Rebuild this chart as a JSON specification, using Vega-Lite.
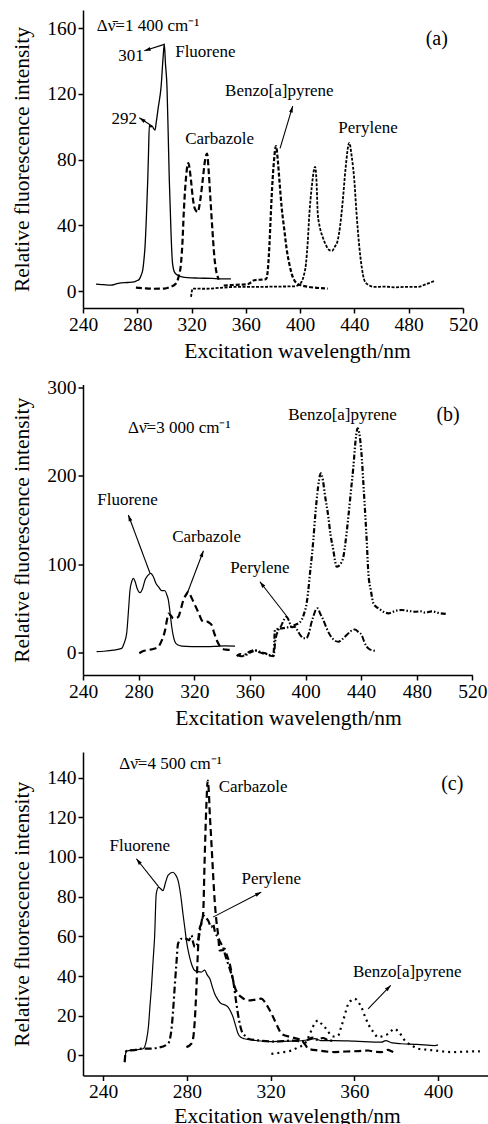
{
"$schema":"https://vega.github.io/schema/vega-lite/v6.json",
"background":"white",
"padding":{"left":11,"top":10,"right":0,"bottom":0},
"autosize":{"type":"pad"},
"bounds":"flush",
"spacing":76.5,
"resolve":{"scale":{"x":"independent","y":"independent"}},
"config":{
 "font":"Liberation Serif",
 "view":{"stroke":null},
 "axis":{"grid":false,"domainColor":"black","domainWidth":1.5,"tickColor":"black","tickWidth":1.5,"tickSize":5,"labelFont":"Liberation Serif","labelFontSize":19.5,"labelColor":"black","labelPadding":2,"labelFlush":false,"labelOverlap":false,"titleFont":"Liberation Serif","titleFontSize":21.5,"titleFontWeight":"normal","titleColor":"black"},
 "axisY":{"titlePadding":13},
 "text":{"font":"Liberation Serif","fontSize":17,"color":"black","align":"center","baseline":"middle"},
 "line":{"color":"black","interpolate":"monotone"}
},
"datasets":{
"ca":[
{"c":"F","x":249.6,"y":4.3},{"c":"F","x":255,"y":4.0},{"c":"F","x":260.6,"y":3.7},{"c":"F","x":265,"y":4.6},{"c":"F","x":268,"y":5.1},{"c":"F","x":273,"y":5.3},{"c":"F","x":277.8,"y":5.7},{"c":"F","x":280,"y":6.5},{"c":"F","x":281.5,"y":7.3},{"c":"F","x":283,"y":10},{"c":"F","x":284,"y":12.8},{"c":"F","x":285,"y":20},{"c":"F","x":285.7,"y":27},{"c":"F","x":286.7,"y":45},{"c":"F","x":287.7,"y":67.6},{"c":"F","x":288.3,"y":85},{"c":"F","x":288.9,"y":101},{"c":"F","x":290,"y":100},{"c":"F","x":291,"y":100.5},{"c":"F","x":292,"y":99},{"c":"F","x":293,"y":98},{"c":"F","x":294,"y":103},{"c":"F","x":295.5,"y":112},{"c":"F","x":297.5,"y":124},{"c":"F","x":299,"y":142},{"c":"F","x":299.9,"y":150.4},{"c":"F","x":300.8,"y":138},{"c":"F","x":301.9,"y":124},{"c":"F","x":302.8,"y":95},{"c":"F","x":303.6,"y":67.6},{"c":"F","x":304.3,"y":50},{"c":"F","x":304.8,"y":37},{"c":"F","x":306,"y":16.8},{"c":"F","x":307.5,"y":11.5},{"c":"F","x":309.8,"y":9.7},{"c":"F","x":313,"y":8.8},{"c":"F","x":317,"y":8.3},{"c":"F","x":325,"y":8},{"c":"F","x":335,"y":7.8},{"c":"F","x":342,"y":7.5},{"c":"F","x":349,"y":7.5},
{"c":"C","x":279,"y":2.2},{"c":"C","x":285,"y":1.8},{"c":"C","x":292,"y":1.5},{"c":"C","x":299.9,"y":1.6},{"c":"C","x":304,"y":2.5},{"c":"C","x":308.5,"y":4.7},{"c":"C","x":310.5,"y":9},{"c":"C","x":312.2,"y":16.8},{"c":"C","x":313.3,"y":30},{"c":"C","x":314.2,"y":47},{"c":"C","x":315.5,"y":65},{"c":"C","x":317.6,"y":78},{"c":"C","x":319.5,"y":68},{"c":"C","x":320.8,"y":57.4},{"c":"C","x":322.5,"y":50},{"c":"C","x":324.5,"y":48.3},{"c":"C","x":326.5,"y":56},{"c":"C","x":328.2,"y":67.6},{"c":"C","x":330,"y":80},{"c":"C","x":331.4,"y":83.8},{"c":"C","x":332.7,"y":72},{"c":"C","x":333.8,"y":57.4},{"c":"C","x":335.3,"y":38},{"c":"C","x":336.8,"y":20.9},{"c":"C","x":338,"y":13},{"c":"C","x":339.3,"y":8.7},{"c":"C","x":340,"y":7},
{"c":"B","x":343.7,"y":3.5},{"c":"B","x":350,"y":3.8},{"c":"B","x":356,"y":4},{"c":"B","x":361.4,"y":4.3},{"c":"B","x":364,"y":5.5},{"c":"B","x":366.2,"y":6.7},{"c":"B","x":370,"y":7},{"c":"B","x":374.9,"y":7.3},{"c":"B","x":376.3,"y":14},{"c":"B","x":377.3,"y":27},{"c":"B","x":378.3,"y":45},{"c":"B","x":379,"y":57.4},{"c":"B","x":380.5,"y":77},{"c":"B","x":382.2,"y":88.3},{"c":"B","x":383.5,"y":80},{"c":"B","x":384.7,"y":67.6},{"c":"B","x":386.5,"y":50},{"c":"B","x":388.4,"y":37},{"c":"B","x":390,"y":26},{"c":"B","x":392,"y":16.8},{"c":"B","x":394,"y":10},{"c":"B","x":395.7,"y":6.7},{"c":"B","x":398,"y":4.5},{"c":"B","x":400.6,"y":3.6},{"c":"B","x":405,"y":2.8},{"c":"B","x":410.5,"y":2.2},{"c":"B","x":415,"y":1.9},{"c":"B","x":420.3,"y":1.6},
{"c":"P","x":319.6,"y":-3.5},{"c":"P","x":320.8,"y":1.6},{"c":"P","x":330,"y":1.5},{"c":"P","x":340,"y":2},{"c":"P","x":351.5,"y":2.6},{"c":"P","x":365,"y":2.6},{"c":"P","x":380,"y":2.8},{"c":"P","x":395.7,"y":3},{"c":"P","x":400,"y":4.5},{"c":"P","x":402.5,"y":9},{"c":"P","x":404.3,"y":16.8},{"c":"P","x":405.6,"y":30},{"c":"P","x":406.8,"y":47},{"c":"P","x":408.5,"y":63},{"c":"P","x":411,"y":75.7},{"c":"P","x":412,"y":68},{"c":"P","x":413,"y":47},{"c":"P","x":414.5,"y":39},{"c":"P","x":416.6,"y":33},{"c":"P","x":419,"y":28},{"c":"P","x":421.5,"y":25},{"c":"P","x":423.5,"y":24.5},{"c":"P","x":425.5,"y":27},{"c":"P","x":427.7,"y":31},{"c":"P","x":429.5,"y":40},{"c":"P","x":431.4,"y":55},{"c":"P","x":433.5,"y":75},{"c":"P","x":436.2,"y":90.3},{"c":"P","x":438,"y":82},{"c":"P","x":439.9,"y":67.6},{"c":"P","x":441.5,"y":48},{"c":"P","x":443.6,"y":27},{"c":"P","x":445.5,"y":14},{"c":"P","x":447.3,"y":6.7},{"c":"P","x":450,"y":4},{"c":"P","x":454.7,"y":2.6},{"c":"P","x":462,"y":2.8},{"c":"P","x":470,"y":2.4},{"c":"P","x":478,"y":2.7},{"c":"P","x":486.6,"y":2.6},{"c":"P","x":492,"y":4},{"c":"P","x":498.9,"y":6.3}
],
"cb":[
{"c":"F","x":249.8,"y":0.7},{"c":"F","x":255,"y":1.2},{"c":"F","x":262,"y":2.5},{"c":"F","x":267.8,"y":4.5},{"c":"F","x":269.5,"y":10},{"c":"F","x":271.4,"y":21.5},{"c":"F","x":272.6,"y":45},{"c":"F","x":273.8,"y":70.6},{"c":"F","x":275,"y":80},{"c":"F","x":276.2,"y":83.9},{"c":"F","x":277.5,"y":80},{"c":"F","x":279,"y":72},{"c":"F","x":281,"y":67.6},{"c":"F","x":282.8,"y":72},{"c":"F","x":284.6,"y":82},{"c":"F","x":286.5,"y":87},{"c":"F","x":288.7,"y":89.6},{"c":"F","x":290.5,"y":86},{"c":"F","x":292.5,"y":78},{"c":"F","x":294.2,"y":74.4},{"c":"F","x":296.5,"y":70},{"c":"F","x":299,"y":69.8},{"c":"F","x":300.3,"y":65},{"c":"F","x":301.4,"y":59.3},{"c":"F","x":302.6,"y":45},{"c":"F","x":303.8,"y":29},{"c":"F","x":305,"y":18},{"c":"F","x":306.1,"y":12},{"c":"F","x":308,"y":8.5},{"c":"F","x":311,"y":7.1},{"c":"F","x":318,"y":6.5},{"c":"F","x":325.3,"y":6.4},{"c":"F","x":335,"y":6.8},{"c":"F","x":342,"y":7.3},{"c":"F","x":349.3,"y":7.1},
{"c":"C","x":280.5,"y":-1},{"c":"C","x":283,"y":1.2},{"c":"C","x":287,"y":2.6},{"c":"C","x":291,"y":4},{"c":"C","x":294.2,"y":6.4},{"c":"C","x":296.5,"y":13},{"c":"C","x":299,"y":25},{"c":"C","x":300.3,"y":36},{"c":"C","x":301.4,"y":44},{"c":"C","x":303,"y":42},{"c":"C","x":305,"y":38.5},{"c":"C","x":307,"y":39},{"c":"C","x":308.6,"y":40.4},{"c":"C","x":310.5,"y":50},{"c":"C","x":312.2,"y":59.3},{"c":"C","x":314,"y":65},{"c":"C","x":315.8,"y":68.7},{"c":"C","x":318,"y":62},{"c":"C","x":320.5,"y":53.6},{"c":"C","x":323,"y":45},{"c":"C","x":325.3,"y":36.6},{"c":"C","x":327,"y":34.5},{"c":"C","x":328.9,"y":34.7},{"c":"C","x":330.8,"y":33.5},{"c":"C","x":332.5,"y":31},{"c":"C","x":334.3,"y":22},{"c":"C","x":336.1,"y":14},{"c":"C","x":338,"y":8},{"c":"C","x":339.7,"y":4.5},{"c":"C","x":343,"y":3},{"c":"C","x":346.9,"y":2.6},
{"c":"B","x":350.5,"y":-4.2},{"c":"B","x":353,"y":-2},{"c":"B","x":356,"y":-4},{"c":"B","x":359,"y":-1},{"c":"B","x":362,"y":1},{"c":"B","x":365,"y":2},{"c":"B","x":368,"y":0},{"c":"B","x":371,"y":-1},{"c":"B","x":374,"y":-3},{"c":"B","x":376.9,"y":-3},{"c":"B","x":377.5,"y":10},{"c":"B","x":378,"y":25.3},{"c":"B","x":380,"y":26.5},{"c":"B","x":382.8,"y":27.2},{"c":"B","x":386,"y":28},{"c":"B","x":389,"y":29},{"c":"B","x":392.4,"y":31},{"c":"B","x":395,"y":33},{"c":"B","x":397.2,"y":36.6},{"c":"B","x":399,"y":44},{"c":"B","x":400.8,"y":55.5},{"c":"B","x":402,"y":70},{"c":"B","x":403.2,"y":89.6},{"c":"B","x":404.5,"y":108},{"c":"B","x":405.6,"y":127},{"c":"B","x":407,"y":155},{"c":"B","x":408.5,"y":180},{"c":"B","x":409.8,"y":196},{"c":"B","x":411,"y":203},{"c":"B","x":412.5,"y":195},{"c":"B","x":414,"y":178},{"c":"B","x":416.4,"y":153.7},{"c":"B","x":418,"y":133},{"c":"B","x":420,"y":116},{"c":"B","x":421.2,"y":104},{"c":"B","x":422.4,"y":97},{"c":"B","x":424,"y":98},{"c":"B","x":425.5,"y":101},{"c":"B","x":427.2,"y":108},{"c":"B","x":429,"y":128},{"c":"B","x":430.8,"y":153.7},{"c":"B","x":432.6,"y":182},{"c":"B","x":434.4,"y":210},{"c":"B","x":436,"y":240},{"c":"B","x":437.5,"y":254},{"c":"B","x":439,"y":245},{"c":"B","x":440.5,"y":220},{"c":"B","x":441.6,"y":191.6},{"c":"B","x":443,"y":155},{"c":"B","x":444,"y":127},{"c":"B","x":445.2,"y":89.6},{"c":"B","x":447,"y":70},{"c":"B","x":448.8,"y":55.5},{"c":"B","x":450.5,"y":52},{"c":"B","x":452.4,"y":49.9},{"c":"B","x":456,"y":46},{"c":"B","x":459.6,"y":44.2},{"c":"B","x":463,"y":46},{"c":"B","x":466,"y":47.5},{"c":"B","x":469.1,"y":48},{"c":"B","x":474,"y":47},{"c":"B","x":478.7,"y":46},{"c":"B","x":483,"y":46.5},{"c":"B","x":486,"y":45},{"c":"B","x":490.7,"y":46.5},{"c":"B","x":496,"y":44.5},{"c":"B","x":501.5,"y":43.4},
{"c":"P","x":351,"y":-3},{"c":"P","x":354,"y":-4.5},{"c":"P","x":357,"y":-2},{"c":"P","x":360,"y":1},{"c":"P","x":363,"y":2.5},{"c":"P","x":366,"y":0.5},{"c":"P","x":369,"y":-1},{"c":"P","x":372,"y":-2},{"c":"P","x":375,"y":-4},{"c":"P","x":377,"y":-4.5},{"c":"P","x":378.5,"y":15},{"c":"P","x":380.5,"y":25.3},{"c":"P","x":382.5,"y":30},{"c":"P","x":384.5,"y":37},{"c":"P","x":386.4,"y":40.4},{"c":"P","x":388,"y":36},{"c":"P","x":390,"y":28.3},{"c":"P","x":392,"y":29},{"c":"P","x":394.5,"y":24},{"c":"P","x":396.5,"y":19},{"c":"P","x":398.4,"y":15.9},{"c":"P","x":400.5,"y":16},{"c":"P","x":402.5,"y":22},{"c":"P","x":404,"y":32},{"c":"P","x":405.6,"y":40.4},{"c":"P","x":407,"y":47},{"c":"P","x":408.7,"y":49.9},{"c":"P","x":410.5,"y":44},{"c":"P","x":412.8,"y":36.6},{"c":"P","x":415,"y":28},{"c":"P","x":417.6,"y":19.6},{"c":"P","x":420.5,"y":14},{"c":"P","x":423.6,"y":12},{"c":"P","x":426.5,"y":15},{"c":"P","x":429.6,"y":19.6},{"c":"P","x":432.5,"y":24},{"c":"P","x":435.5,"y":26},{"c":"P","x":438,"y":23},{"c":"P","x":440.4,"y":19.6},{"c":"P","x":442.2,"y":12},{"c":"P","x":444,"y":6.4},{"c":"P","x":446,"y":3.5},{"c":"P","x":447.5,"y":2.6},{"c":"P","x":451.1,"y":1.5}
],
"cc":[
{"c":"F","x":250.3,"y":-3.4},{"c":"F","x":250.8,"y":1},{"c":"F","x":251.1,"y":2.2},{"c":"F","x":255,"y":2.8},{"c":"F","x":259.1,"y":3.4},{"c":"F","x":260.7,"y":7.6},{"c":"F","x":261.7,"y":15},{"c":"F","x":262.4,"y":25},{"c":"F","x":263.1,"y":34.4},{"c":"F","x":263.9,"y":48},{"c":"F","x":264.6,"y":59.6},{"c":"F","x":265.4,"y":81.5},{"c":"F","x":266.5,"y":84.8},{"c":"F","x":267.5,"y":84},{"c":"F","x":268.6,"y":83.1},{"c":"F","x":269.8,"y":87},{"c":"F","x":271,"y":90.7},{"c":"F","x":273.4,"y":92.3},{"c":"F","x":274.6,"y":91},{"c":"F","x":275.8,"y":88.2},{"c":"F","x":276.6,"y":84},{"c":"F","x":277.4,"y":78.1},{"c":"F","x":278.2,"y":71},{"c":"F","x":279,"y":64.6},{"c":"F","x":279.8,"y":57.9},{"c":"F","x":281,"y":51},{"c":"F","x":282.2,"y":46.2},{"c":"F","x":283.8,"y":42.8},{"c":"F","x":285.3,"y":42.2},{"c":"F","x":286.9,"y":42},{"c":"F","x":288.5,"y":43},{"c":"F","x":289.8,"y":40.5},{"c":"F","x":291,"y":38.6},{"c":"F","x":292.2,"y":34.5},{"c":"F","x":293.3,"y":31.1},{"c":"F","x":294.9,"y":28},{"c":"F","x":296.5,"y":26},{"c":"F","x":298.1,"y":25.5},{"c":"F","x":299.7,"y":24.3},{"c":"F","x":301,"y":22},{"c":"F","x":302.1,"y":19.3},{"c":"F","x":303.3,"y":15},{"c":"F","x":304.5,"y":10.9},{"c":"F","x":306,"y":9},{"c":"F","x":307.6,"y":8.4},{"c":"F","x":310,"y":7.9},{"c":"F","x":312.4,"y":7.6},{"c":"F","x":320,"y":7},{"c":"F","x":330,"y":7.2},{"c":"F","x":338,"y":7.8},{"c":"F","x":341,"y":8.5},{"c":"F","x":344,"y":7.5},{"c":"F","x":350.7,"y":7.5},{"c":"F","x":360,"y":7.2},{"c":"F","x":373,"y":6.7},{"c":"F","x":375,"y":7.5},{"c":"F","x":378,"y":6.3},{"c":"F","x":382.6,"y":5.9},{"c":"F","x":390,"y":5.6},{"c":"F","x":398.5,"y":5},{"c":"F","x":400,"y":5.3},
{"c":"C","x":279.8,"y":4.2},{"c":"C","x":282.2,"y":6},{"c":"C","x":283.2,"y":10},{"c":"C","x":283.8,"y":17.6},{"c":"C","x":284.6,"y":34.4},{"c":"C","x":285.2,"y":50},{"c":"C","x":285.8,"y":62},{"c":"C","x":287,"y":67},{"c":"C","x":287.8,"y":71.4},{"c":"C","x":288.5,"y":98.2},{"c":"C","x":289.3,"y":125},{"c":"C","x":290,"y":138.5},{"c":"C","x":290.6,"y":131},{"c":"C","x":290.9,"y":123.4},{"c":"C","x":291.6,"y":110},{"c":"C","x":292.2,"y":98.2},{"c":"C","x":293.3,"y":78.1},{"c":"C","x":294.3,"y":66},{"c":"C","x":294.9,"y":61.3},{"c":"C","x":295.7,"y":52.9},{"c":"C","x":297,"y":53},{"c":"C","x":298.1,"y":53.7},{"c":"C","x":299.3,"y":50},{"c":"C","x":300.5,"y":46.2},{"c":"C","x":301.7,"y":40},{"c":"C","x":302.9,"y":34.4},{"c":"C","x":304.5,"y":31},{"c":"C","x":306.1,"y":29.4},{"c":"C","x":309.3,"y":27.7},{"c":"C","x":312,"y":28},{"c":"C","x":315.6,"y":28.6},{"c":"C","x":317.2,"y":27},{"c":"C","x":318.8,"y":24.3},{"c":"C","x":320.5,"y":21},{"c":"C","x":322,"y":17.6},{"c":"C","x":323.6,"y":14},{"c":"C","x":325.2,"y":10.9},{"c":"C","x":330,"y":9.2},{"c":"C","x":334.8,"y":7.6},{"c":"C","x":336.5,"y":5.5},{"c":"C","x":338,"y":3.4},{"c":"C","x":343,"y":2.5},{"c":"C","x":350.7,"y":1.7},{"c":"C","x":356,"y":2},{"c":"C","x":362,"y":2.2},{"c":"C","x":366.6,"y":2.5},{"c":"C","x":370,"y":1.8},{"c":"C","x":373,"y":1.7},{"c":"C","x":376,"y":2.8},{"c":"C","x":378,"y":2},{"c":"C","x":380.2,"y":0.8},
{"c":"P","x":250.3,"y":-3.4},{"c":"P","x":250.8,"y":1.5},{"c":"P","x":251.5,"y":2.5},{"c":"P","x":255,"y":2.7},{"c":"P","x":258.3,"y":3.4},{"c":"P","x":261.5,"y":3.4},{"c":"P","x":266.3,"y":3.9},{"c":"P","x":271,"y":5.9},{"c":"P","x":272.6,"y":12.6},{"c":"P","x":273.4,"y":22},{"c":"P","x":274.2,"y":34.4},{"c":"P","x":275,"y":46},{"c":"P","x":275.8,"y":56.3},{"c":"P","x":277.4,"y":58.8},{"c":"P","x":279.8,"y":58.8},{"c":"P","x":281,"y":58},{"c":"P","x":282.2,"y":60.5},{"c":"P","x":283,"y":57},{"c":"P","x":283.8,"y":54.6},{"c":"P","x":285,"y":56},{"c":"P","x":286.5,"y":64},{"c":"P","x":287.8,"y":70.5},{"c":"P","x":289,"y":69.5},{"c":"P","x":290.2,"y":68},{"c":"P","x":291.7,"y":64.6},{"c":"P","x":292.5,"y":66.3},{"c":"P","x":293.5,"y":62},{"c":"P","x":294.9,"y":59.6},{"c":"P","x":296,"y":57},{"c":"P","x":297.3,"y":54.6},{"c":"P","x":298.5,"y":50},{"c":"P","x":299.7,"y":46.2},{"c":"P","x":301,"y":42},{"c":"P","x":302.1,"y":37.8},{"c":"P","x":303.7,"y":26},{"c":"P","x":304.9,"y":18},{"c":"P","x":306.1,"y":12.6},{"c":"P","x":307.7,"y":10},{"c":"P","x":309.3,"y":8.4},{"c":"P","x":315,"y":7.5},{"c":"P","x":322,"y":7},{"c":"P","x":330,"y":7.5},{"c":"P","x":335,"y":7.2},{"c":"P","x":338,"y":8},{"c":"P","x":340,"y":9},{"c":"P","x":342,"y":8},{"c":"P","x":345,"y":8.8},{"c":"P","x":348,"y":7.5},{"c":"P","x":350.7,"y":7.5},
{"c":"B","x":320.4,"y":0.8},{"c":"B","x":325,"y":1.5},{"c":"B","x":330,"y":2.5},{"c":"B","x":333,"y":4},{"c":"B","x":336.3,"y":5.9},{"c":"B","x":338,"y":9},{"c":"B","x":339.5,"y":12.6},{"c":"B","x":341,"y":16},{"c":"B","x":342.7,"y":17.6},{"c":"B","x":344.3,"y":16},{"c":"B","x":345.9,"y":14.3},{"c":"B","x":347.5,"y":12},{"c":"B","x":349.1,"y":10},{"c":"B","x":350.7,"y":9.5},{"c":"B","x":352.3,"y":10},{"c":"B","x":353.5,"y":13.5},{"c":"B","x":354.7,"y":17.6},{"c":"B","x":355.9,"y":22},{"c":"B","x":357.1,"y":26},{"c":"B","x":358.6,"y":27.8},{"c":"B","x":360.2,"y":28.6},{"c":"B","x":361.8,"y":27},{"c":"B","x":363.4,"y":24.3},{"c":"B","x":365,"y":20},{"c":"B","x":366.6,"y":16},{"c":"B","x":369,"y":12},{"c":"B","x":371.4,"y":9.2},{"c":"B","x":373.8,"y":9.8},{"c":"B","x":376.2,"y":10.9},{"c":"B","x":377.8,"y":12.5},{"c":"B","x":379.3,"y":13.4},{"c":"B","x":381,"y":12},{"c":"B","x":382.6,"y":10},{"c":"B","x":383.8,"y":8},{"c":"B","x":385,"y":6.7},{"c":"B","x":387.5,"y":5},{"c":"B","x":390.5,"y":3.4},{"c":"B","x":394.5,"y":2.9},{"c":"B","x":398.5,"y":2.5},{"c":"B","x":402.5,"y":2},{"c":"B","x":406.5,"y":1.7},{"c":"B","x":410,"y":1.8},{"c":"B","x":415,"y":2},{"c":"B","x":420,"y":2.1}
],
"la":[{"x":287.9,"y":161.3,"t":"Δν̄=1 400 cm⁻¹"},{"x":275.4,"y":143.1,"t":"301"},{"x":330.2,"y":145.3,"t":"Fluorene"},{"x":270.4,"y":104.7,"t":"292"},{"x":340.7,"y":92.5,"t":"Carbazole"},{"x":384.7,"y":122,"t":"Benzo[a]pyrene"},{"x":450,"y":99.4,"t":"Perylene"}],
"lb":[{"x":309.2,"y":254.3,"t":"Δν̄=3 000 cm⁻¹"},{"x":426.6,"y":269,"t":"Benzo[a]pyrene"},{"x":272,"y":172.7,"t":"Fluorene"},{"x":328.9,"y":131,"t":"Carbazole"},{"x":367.2,"y":95.2,"t":"Perylene"}],
"lc":[{"x":272.2,"y":147,"t":"Δν̄=4 500 cm⁻¹"},{"x":311.7,"y":135.5,"t":"Carbazole"},{"x":257.5,"y":105.3,"t":"Fluorene"},{"x":320.3,"y":89,"t":"Perylene"},{"x":385.3,"y":42,"t":"Benzo[a]pyrene"}],
"aa":[{"id":"a1","x":299.9,"y":150.2,"x2":285.2,"y2":146.3},{"id":"a2","x":290.8,"y":100.5,"x2":281.5,"y2":105.5},{"id":"a3","x":385.2,"y":86.9,"x2":394.5,"y2":112.6}],
"ab":[{"id":"b1","x":288.2,"y":89.6,"x2":272.6,"y2":155.7},{"id":"b2","x":314.5,"y":65,"x2":326.6,"y2":115.2},{"id":"b3","x":386.4,"y":41.2,"x2":367.2,"y2":80}],
"ac":[{"id":"c1","x":266.5,"y":85.1,"x2":255.9,"y2":99.1},{"id":"c2","x":292.5,"y":69.7,"x2":315.6,"y2":82.3},{"id":"c3","x":366.6,"y":23.5,"x2":377.4,"y2":35.3}]
},
"vconcat":[
{
"width":380,"height":298,
"encoding":{
 "x":{"field":"x","type":"quantitative","scale":{"domain":[240,520],"nice":false,"zero":false},"axis":{"values":[240,280,320,360,400,440,480,520],"title":"Excitation wavelength/nm","titleX":214,"titleY":49,"titleBaseline":"alphabetic","titleAlign":"center"}},
 "y":{"field":"y","type":"quantitative","scale":{"domain":[-10.2,171.1],"nice":false,"zero":false},"axis":{"values":[0,40,80,120,160],"title":"Relative fluorescence intensity"}}
},
"layer":[
 {"data":{"name":"ca"},"transform":[{"filter":"datum.c=='F'"}],"mark":{"type":"line","strokeWidth":1.3}},
 {"data":{"name":"ca"},"transform":[{"filter":"datum.c=='C'"}],"mark":{"type":"line","strokeWidth":2.2,"strokeDash":[6,3]}},
 {"data":{"name":"ca"},"transform":[{"filter":"datum.c=='B'"}],"mark":{"type":"line","strokeWidth":2.2,"strokeDash":[4,2]}},
 {"data":{"name":"ca"},"transform":[{"filter":"datum.c=='P'"}],"mark":{"type":"line","strokeWidth":1.8,"strokeDash":[3,1.5]}},
 {"data":{"name":"aa"},"mark":{"type":"rule","color":"black","strokeWidth":1.1},"encoding":{"x2":{"field":"x2"},"y2":{"field":"y2"}}},
 {"data":{"name":"aa"},"transform":[{"filter":"datum.id=='a1'"}],"mark":{"type":"point","shape":"M0,0L0.6,2L-0.6,2Z","filled":true,"color":"black","opacity":1,"size":40,"angle":-107.7},"encoding":{"x":{"field":"x2","type":"quantitative"},"y":{"field":"y2","type":"quantitative"}}},
 {"data":{"name":"aa"},"transform":[{"filter":"datum.id=='a2'"}],"mark":{"type":"point","shape":"M0,0L0.6,2L-0.6,2Z","filled":true,"color":"black","opacity":1,"size":40,"angle":-56.8},"encoding":{"x":{"field":"x2","type":"quantitative"},"y":{"field":"y2","type":"quantitative"}}},
 {"data":{"name":"aa"},"transform":[{"filter":"datum.id=='a3'"}],"mark":{"type":"point","shape":"M0,0L0.6,2L-0.6,2Z","filled":true,"color":"black","opacity":1,"size":40,"angle":16.7},"encoding":{"x":{"field":"x2","type":"quantitative"},"y":{"field":"y2","type":"quantitative"}}},
 {"data":{"name":"la"},"mark":{"type":"text"},"encoding":{"text":{"field":"t"}}},
 {"data":{"values":[{"x":500.7,"y":153.2,"t":"(a)"}]},"mark":{"type":"text","fontSize":20},"encoding":{"text":{"field":"t"}}}
]
},
{
"width":389.4,"height":290.5,
"encoding":{
 "x":{"field":"x","type":"quantitative","scale":{"domain":[240,520],"nice":false,"zero":false},"axis":{"values":[240,280,320,360,400,440,480,520],"title":"Excitation wavelength/nm","titleX":205,"titleY":49,"titleBaseline":"alphabetic","titleAlign":"center"}},
 "y":{"field":"y","type":"quantitative","scale":{"domain":[-25.7,303.6],"nice":false,"zero":false},"axis":{"values":[0,100,200,300],"title":"Relative fluorescence intensity"}}
},
"layer":[
 {"data":{"name":"cb"},"transform":[{"filter":"datum.c=='F'"}],"mark":{"type":"line","strokeWidth":1.2}},
 {"data":{"name":"cb"},"transform":[{"filter":"datum.c=='C'"}],"mark":{"type":"line","strokeWidth":2.2,"strokeDash":[7,4]}},
 {"data":{"name":"cb"},"transform":[{"filter":"datum.c=='P'"}],"mark":{"type":"line","strokeWidth":2,"strokeDash":[6,2,1.5,2]}},
 {"data":{"name":"cb"},"transform":[{"filter":"datum.c=='B'"}],"mark":{"type":"line","strokeWidth":2.2,"strokeDash":[5,2,1.5,2,1.5,2]}},
 {"data":{"name":"ab"},"mark":{"type":"rule","color":"black","strokeWidth":1.1},"encoding":{"x2":{"field":"x2"},"y2":{"field":"y2"}}},
 {"data":{"name":"ab"},"transform":[{"filter":"datum.id=='b1'"}],"mark":{"type":"point","shape":"M0,0L0.6,2L-0.6,2Z","filled":true,"color":"black","opacity":1,"size":40,"angle":-20.3},"encoding":{"x":{"field":"x2","type":"quantitative"},"y":{"field":"y2","type":"quantitative"}}},
 {"data":{"name":"ab"},"transform":[{"filter":"datum.id=='b2'"}],"mark":{"type":"point","shape":"M0,0L0.6,2L-0.6,2Z","filled":true,"color":"black","opacity":1,"size":40,"angle":20.7},"encoding":{"x":{"field":"x2","type":"quantitative"},"y":{"field":"y2","type":"quantitative"}}},
 {"data":{"name":"ab"},"transform":[{"filter":"datum.id=='b3'"}],"mark":{"type":"point","shape":"M0,0L0.6,2L-0.6,2Z","filled":true,"color":"black","opacity":1,"size":40,"angle":-37.9},"encoding":{"x":{"field":"x2","type":"quantitative"},"y":{"field":"y2","type":"quantitative"}}},
 {"data":{"name":"lb"},"mark":{"type":"text"},"encoding":{"text":{"field":"t"}}},
 {"data":{"values":[{"x":502.5,"y":269,"t":"(b)"}]},"mark":{"type":"text","fontSize":20},"encoding":{"text":{"field":"t"}}}
]
},
{
"width":406.3,"height":323.5,
"encoding":{
 "x":{"field":"x","type":"quantitative","scale":{"domain":[230.4,424.5],"nice":false,"zero":false},"axis":{"values":[240,280,320,360,400],"title":"Excitation wavelength/nm","titleX":204,"titleY":46.7,"titleBaseline":"alphabetic","titleAlign":"center"}},
 "y":{"field":"y","type":"quantitative","scale":{"domain":[-10.1,152.9],"nice":false,"zero":false},"axis":{"values":[0,20,40,60,80,100,120,140],"title":"Relative fluorescence intensity"}}
},
"layer":[
 {"data":{"name":"cc"},"transform":[{"filter":"datum.c=='F'"}],"mark":{"type":"line","strokeWidth":1.2}},
 {"data":{"name":"cc"},"transform":[{"filter":"datum.c=='C'"}],"mark":{"type":"line","strokeWidth":2.2,"strokeDash":[7,4]}},
 {"data":{"name":"cc"},"transform":[{"filter":"datum.c=='P'"}],"mark":{"type":"line","strokeWidth":2.2,"strokeDash":[7,3,2,3]}},
 {"data":{"name":"cc"},"transform":[{"filter":"datum.c=='B'"}],"mark":{"type":"line","strokeWidth":2.2,"strokeDash":[2,4]}},
 {"data":{"name":"ac"},"mark":{"type":"rule","color":"black","strokeWidth":1.1},"encoding":{"x2":{"field":"x2"},"y2":{"field":"y2"}}},
 {"data":{"name":"ac"},"transform":[{"filter":"datum.id=='c1'"}],"mark":{"type":"point","shape":"M0,0L0.6,2L-0.6,2Z","filled":true,"color":"black","opacity":1,"size":40,"angle":-38.8},"encoding":{"x":{"field":"x2","type":"quantitative"},"y":{"field":"y2","type":"quantitative"}}},
 {"data":{"name":"ac"},"transform":[{"filter":"datum.id=='c2'"}],"mark":{"type":"point","shape":"M0,0L0.6,2L-0.6,2Z","filled":true,"color":"black","opacity":1,"size":40,"angle":62.6},"encoding":{"x":{"field":"x2","type":"quantitative"},"y":{"field":"y2","type":"quantitative"}}},
 {"data":{"name":"ac"},"transform":[{"filter":"datum.id=='c3'"}],"mark":{"type":"point","shape":"M0,0L0.6,2L-0.6,2Z","filled":true,"color":"black","opacity":1,"size":40,"angle":44.1},"encoding":{"x":{"field":"x2","type":"quantitative"},"y":{"field":"y2","type":"quantitative"}}},
 {"data":{"name":"lc"},"mark":{"type":"text"},"encoding":{"text":{"field":"t"}}},
 {"data":{"values":[{"x":406.8,"y":136.9,"t":"(c)"}]},"mark":{"type":"text","fontSize":20},"encoding":{"text":{"field":"t"}}}
]
}
]
}
